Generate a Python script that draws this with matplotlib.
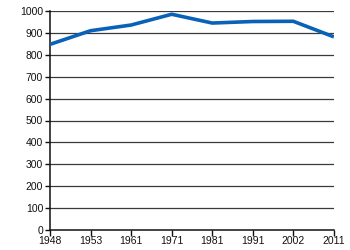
import matplotlib
matplotlib.use("Agg")
import matplotlib.pyplot as plt

years = ["1948", "1953", "1961", "1971", "1981", "1991", "2002", "2011"]
values = [847, 909, 935, 984, 944, 951, 952, 881]
yticks = [0, 100, 200, 300, 400, 500, 600, 700, 800, 900, 1000]

plt.rcParams['font.family'] = ['Liberation Sans', 'DejaVu Sans']

fig = plt.figure(figsize=(3.5, 2.5), dpi=100)
ax = fig.add_axes([0.143, 0.079, 0.811, 0.878])

x = list(range(len(years)))
for t in yticks[1:]:
    ax.axhline(t, color='#3a3a3a', lw=0.9, zorder=1)
ax.plot(x, values, color='#0a62b8', lw=2.6, solid_capstyle='butt', zorder=3)

ax.set_xlim(0, len(years) - 1)
ax.set_ylim(0, 1000)
ax.set_xticks(x)
ax.set_xticklabels(years)
ax.set_yticks(yticks)
ax.tick_params(axis='both', labelsize=7.5, colors='#111111', width=1, length=3.5, pad=1.5)
ax.tick_params(axis='x', direction='out', length=4, pad=0.5)
for s in ['top', 'right']:
    ax.spines[s].set_visible(False)
for s in ['left', 'bottom']:
    ax.spines[s].set_color('#111111')
    ax.spines[s].set_linewidth(1.1)

fig.savefig('out.png', dpi=100)
